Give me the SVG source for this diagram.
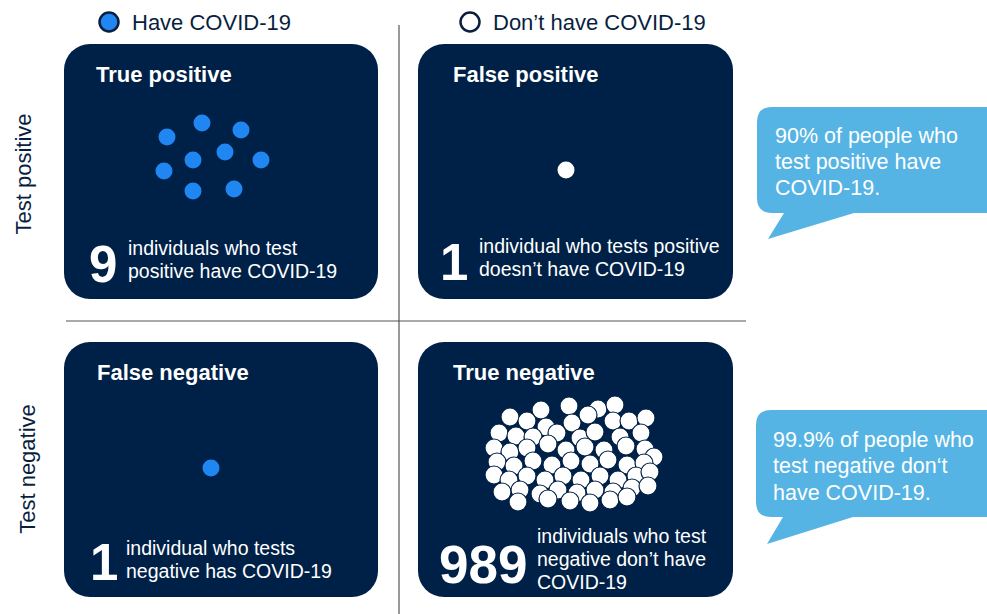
<svg xmlns="http://www.w3.org/2000/svg" width="987" height="614" viewBox="0 0 987 614">
<style>
.box{fill:#002147}
.t{font-family:"Liberation Sans",Arial,sans-serif}
.title{font-size:22px;font-weight:bold;fill:#fff}
.body{font-size:19.5px;fill:#fff}
.big{font-weight:bold;fill:#fff}
.leg{font-size:22px;fill:#0a1f3f}
.axis{font-size:22px;fill:#0a1f3f}
.call{fill:#56B4E4}
.ct{font-size:21.5px;fill:#fff}
.bd{fill:#1f86f2}
.wd{fill:#fff}
.tn circle{fill:#fff;stroke:#002147;stroke-width:1.2}
.ln{stroke:#555;stroke-width:1.2;fill:none}
</style>
<rect width="987" height="614" fill="#fff"/>
<g id="connectors">
<line class="ln" x1="399" y1="25" x2="399" y2="614"/>
<line class="ln" x1="66" y1="321" x2="746" y2="321"/>
</g>
<g id="legend">
<circle cx="109" cy="22" r="9.5" fill="#1f86f2" stroke="#0a1f3f" stroke-width="2.5"/>
<text class="t leg" x="132" y="30">Have COVID-19</text>
<circle cx="470" cy="22" r="9.5" fill="#fff" stroke="#0a1f3f" stroke-width="2.5"/>
<text class="t leg" x="493" y="30">Don’t have COVID-19</text>
</g>
<g id="axis-labels">
<text class="t axis" transform="translate(31,174) rotate(-90)" text-anchor="middle">Test positive</text>
<text class="t axis" transform="translate(35,469) rotate(-90)" text-anchor="middle">Test negative</text>
</g>
<g id="true-positive">
<rect class="box" x="64" y="44" width="314" height="255" rx="26"/>
<text class="t title" x="96" y="82">True positive</text>
<circle class="bd" cx="167" cy="137" r="8.5"/>
<circle class="bd" cx="202" cy="123" r="8.5"/>
<circle class="bd" cx="241" cy="130" r="8.5"/>
<circle class="bd" cx="193" cy="160" r="8.5"/>
<circle class="bd" cx="225" cy="152" r="8.5"/>
<circle class="bd" cx="261" cy="160" r="8.5"/>
<circle class="bd" cx="164" cy="171" r="8.5"/>
<circle class="bd" cx="193" cy="191" r="8.5"/>
<circle class="bd" cx="234" cy="189" r="8.5"/>
<text class="t big" x="89" y="282" font-size="51">9</text>
<text class="t body" x="128" y="255">individuals who test</text>
<text class="t body" x="128" y="278">positive have COVID-19</text>
</g>
<g id="false-positive">
<rect class="box" x="418" y="44" width="315" height="255" rx="26"/>
<text class="t title" x="453" y="82">False positive</text>
<circle class="wd" cx="566" cy="170" r="8.5"/>
<text class="t big" x="440" y="280" font-size="51">1</text>
<text class="t body" x="479" y="253">individual who tests positive</text>
<text class="t body" x="479" y="276">doesn’t have COVID-19</text>
</g>
<g id="false-negative">
<rect class="box" x="64" y="342" width="314" height="255" rx="26"/>
<text class="t title" x="97" y="380">False negative</text>
<circle class="bd" cx="211" cy="468" r="8.5"/>
<text class="t big" x="90" y="580" font-size="51">1</text>
<text class="t body" x="126" y="555">individual who tests</text>
<text class="t body" x="126" y="578">negative has COVID-19</text>
</g>
<g id="true-negative">
<rect class="box" x="418" y="342" width="315" height="255" rx="26"/>
<text class="t title" x="453" y="380">True negative</text>
<g class="tn">
<circle cx="541" cy="410" r="9"/><circle cx="569" cy="406" r="9"/><circle cx="598" cy="409" r="9"/><circle cx="615" cy="405" r="9"/>
<circle cx="510" cy="417" r="9"/><circle cx="527" cy="421" r="9"/><circle cx="546" cy="427" r="9"/><circle cx="572" cy="423" r="9"/><circle cx="588" cy="415" r="9"/><circle cx="613" cy="421" r="9"/><circle cx="629" cy="421" r="9"/><circle cx="646" cy="418" r="9"/>
<circle cx="499" cy="433" r="9"/><circle cx="516" cy="436" r="9"/><circle cx="533" cy="437" r="9"/><circle cx="557" cy="433" r="9"/><circle cx="580" cy="438" r="9"/><circle cx="595" cy="432" r="9"/><circle cx="620" cy="437" r="9"/><circle cx="641" cy="433" r="9"/>
<circle cx="494" cy="448" r="9"/><circle cx="510" cy="452" r="9"/><circle cx="527" cy="448" r="9"/><circle cx="548" cy="444" r="9"/><circle cx="566" cy="450" r="9"/><circle cx="585" cy="447" r="9"/><circle cx="604" cy="450" r="9"/><circle cx="626" cy="446" r="9"/><circle cx="645" cy="449" r="9"/><circle cx="654" cy="457" r="9"/>
<circle cx="497" cy="462" r="9"/><circle cx="514" cy="466" r="9"/><circle cx="533" cy="461" r="9"/><circle cx="552" cy="465" r="9"/><circle cx="571" cy="461" r="9"/><circle cx="590" cy="464" r="9"/><circle cx="608" cy="460" r="9"/><circle cx="627" cy="465" r="9"/><circle cx="644" cy="463" r="9"/>
<circle cx="494" cy="475" r="9"/><circle cx="509" cy="480" r="9"/><circle cx="527" cy="476" r="9"/><circle cx="545" cy="480" r="9"/><circle cx="563" cy="476" r="9"/><circle cx="581" cy="480" r="9"/><circle cx="600" cy="476" r="9"/><circle cx="618" cy="480" r="9"/><circle cx="636" cy="476" r="9"/><circle cx="650" cy="472" r="9"/>
<circle cx="502" cy="492" r="9"/><circle cx="520" cy="490" r="9"/><circle cx="540" cy="494" r="9"/><circle cx="558" cy="490" r="9"/><circle cx="577" cy="493" r="9"/><circle cx="595" cy="490" r="9"/><circle cx="613" cy="492" r="9"/><circle cx="632" cy="488" r="9"/><circle cx="648" cy="486" r="9"/>
<circle cx="518" cy="502" r="9"/><circle cx="548" cy="499" r="9"/><circle cx="570" cy="501" r="9"/><circle cx="590" cy="503" r="9"/><circle cx="610" cy="500" r="9"/><circle cx="627" cy="497" r="9"/>
</g>
<text class="t big" x="439" y="583" font-size="53">989</text>
<text class="t body" x="537" y="543">individuals who test</text>
<text class="t body" x="537" y="566">negative don’t have</text>
<text class="t body" x="537" y="589">COVID-19</text>
</g>
<g id="callout-positive">
<path class="call" d="M772,107 H987 V213 H854 L768,239 L784,213 H772 Q757,213 757,198 V122 Q757,107 772,107 Z"/>
<text class="t ct" x="775" y="143">90% of people who</text>
<text class="t ct" x="775" y="169">test positive have</text>
<text class="t ct" x="775" y="195">COVID-19.</text>
</g>
<g id="callout-negative">
<path class="call" d="M771,410 H987 V517 H853 L767,544 L783,517 H771 Q756,517 756,502 V425 Q756,410 771,410 Z"/>
<text class="t ct" x="773" y="447">99.9% of people who</text>
<text class="t ct" x="773" y="473">test negative don‘t</text>
<text class="t ct" x="773" y="500">have COVID-19.</text>
</g>
</svg>
